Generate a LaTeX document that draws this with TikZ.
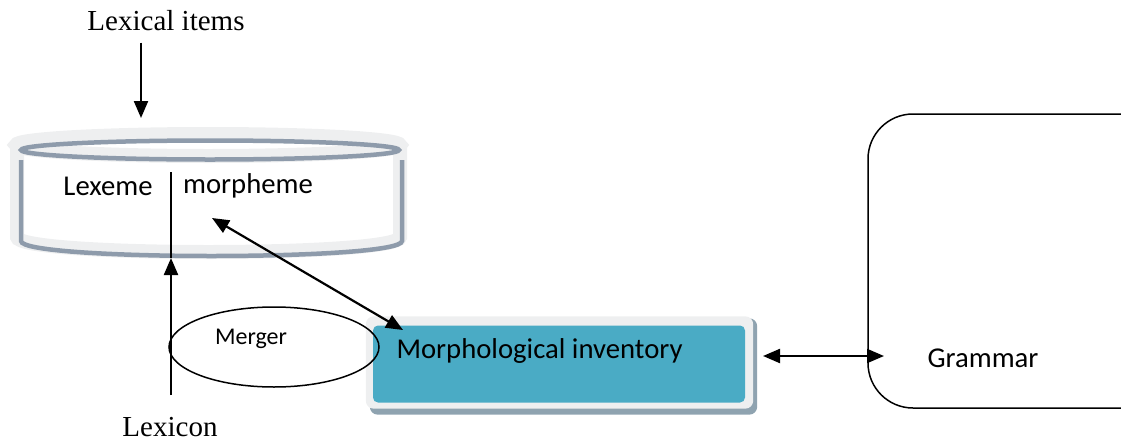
\documentclass[tikz,border=0pt]{standalone}
\usepackage{fontspec}
\setmainfont{Liberation Serif}
\newfontfamily\carl{Carlito}
\usetikzlibrary{arrows.meta,shapes.geometric}
\definecolor{band}{HTML}{EEEFF0}
\definecolor{rim}{HTML}{8E9BAB}
\definecolor{miblue}{HTML}{4AABC5}
\definecolor{mishadow}{HTML}{8FA3B0}
\begin{document}
\begin{tikzpicture}[x=1pt,y=-1pt,
  serif/.style={font=\fontsize{29}{34}\selectfont},
  sans/.style={font=\carl\fontsize{28.7}{34}\selectfont},
  small/.style={font=\carl\fontsize{24}{28}\selectfont},
  tip/.style={line width=2.2pt,-{Triangle[length=17pt,width=14pt]}},
  dtip/.style={line width=2.2pt,{Triangle[length=17pt,width=14pt]}-{Triangle[length=17pt,width=14pt]}},
  bandline/.style={draw=band,line width=14pt},
  rimline/.style={draw=rim,line width=4.5pt},
  mibox/.style={fill=miblue,rounded corners=5pt,minimum width=372pt,minimum height=77pt,inner sep=0pt},
  gbox/.style={draw,line width=1.5pt,rounded corners=45pt,minimum width=302pt,minimum height=294pt,inner sep=0pt},
  mergerell/.style={draw,ellipse,line width=1.5pt,minimum width=210pt,minimum height=80pt,inner sep=0pt}
]
\useasboundingbox (0,0) rectangle (1121,442);
\begin{scope}
\clip (0,0) rectangle (1121,442);
% Lexicon drum
\begin{scope}[shift={(-2,-3)}]
\path[bandline] (210,148) ellipse [x radius=192, y radius=11];
\path[bandline] (19,150) -- (19,240) .. controls (19,260) and (402,260) .. (402,240) -- (402,150);
\end{scope}
\path[rimline] (210,150) ellipse [x radius=189, y radius=9.5];
\path[rimline] (21,160) -- (21,241) .. controls (21,261) and (402,261) .. (402,241) -- (402,160);
\node[sans] (lexeme) at (108,186) {Lexeme};
\node[sans] (morpheme) at (248,186) {morpheme};
\coordinate (septop) at (171,172);
\coordinate (sepbot) at (171,258);
\draw[line width=2pt] (septop) -- (sepbot);
% Morphological inventory box
\node[mibox] (mi) at (559,364) {};
\fill[mishadow,rounded corners=8pt] ([shift={(-3,-7)}]mi.north west) rectangle ([shift={(12,12)}]mi.south east);
\fill[band,rounded corners=8pt] ([shift={(-7,-9)}]mi.north west) rectangle ([shift={(8,6)}]mi.south east);
\node[mibox] (mi) at (559,364) {};
\node[sans,anchor=west] (mitext) at (393,351) {Morphological inventory};
% Merger
\node[mergerell] (merger) at (274,347) {};
\node[small] (mergertext) at (251,339) {Merger};
% Grammar
\node[gbox] (gr) at (1019,261) {};
\node[sans] (grtext) at (983,358) {Grammar};
% Labels
\node[serif] (lexitems) at (166,21) {Lexical items};
\node[serif] (lexicon) at (170,427) {Lexicon};
% Connectors
\coordinate (drumtop) at (141,118);
\draw[tip] (lexitems.south -| drumtop) ++(0,8) -- (drumtop);
\coordinate (lexbot) at (171,395);
\draw[tip] (lexbot) -- (sepbot);
\coordinate (mtip) at (212,218);
\coordinate (btip) at (403,330);
\draw[dtip] (mtip) -- (btip);
\coordinate (ga) at (763,356);
\coordinate (gb) at (884,356);
\draw[dtip] (ga) -- (gb);
\end{scope}
\end{tikzpicture}
\end{document}
